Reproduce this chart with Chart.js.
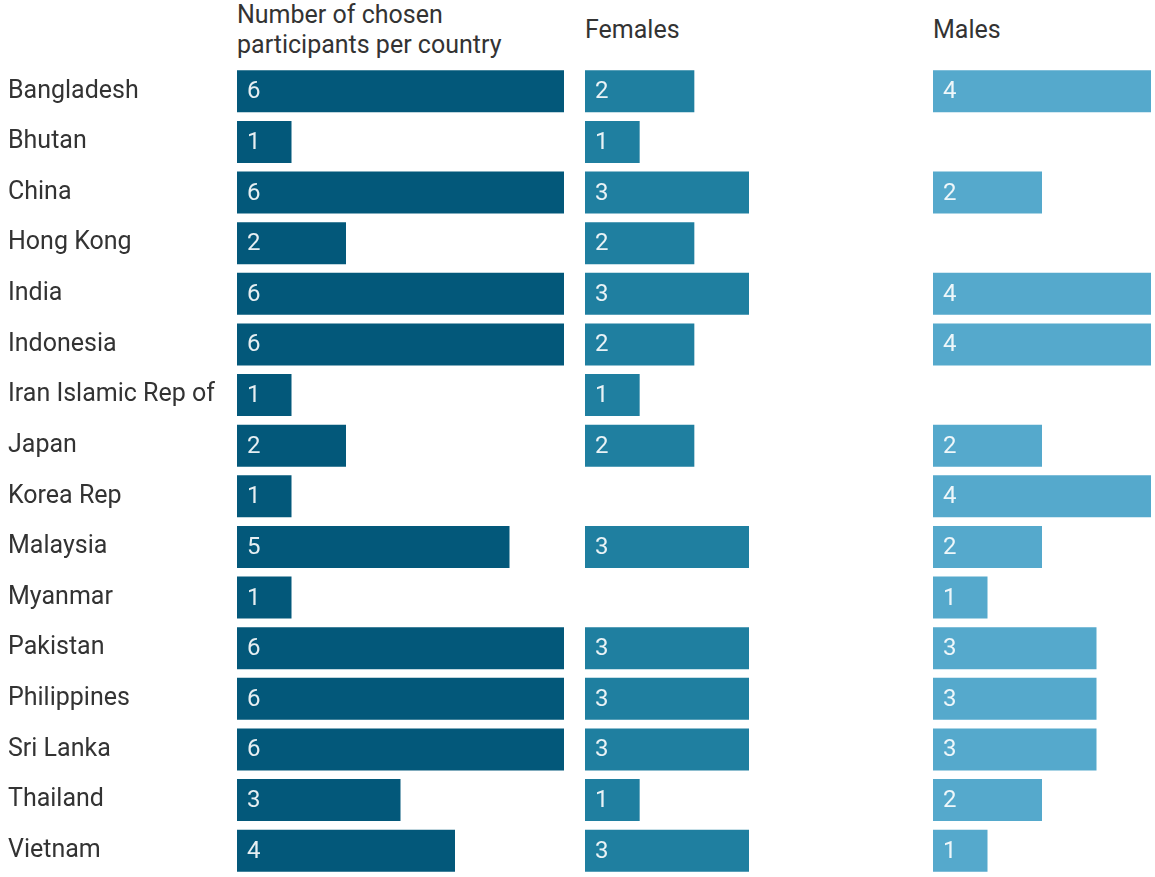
<!DOCTYPE html>
<html>
<head>
<meta charset="utf-8">
<script src="https://cdn.jsdelivr.net/npm/chart.js@4.4.0/dist/chart.umd.min.js"></script>
<style>
  html, body { margin: 0; padding: 0; background: #ffffff; }
  body { width: 1155px; height: 877px; position: relative; overflow: hidden; font-family: Roboto, "Open Sans", sans-serif; }
  .box { position: absolute; top: 0; }
  .hdr { position: absolute; font-family: Roboto, sans-serif; font-size: 25px; color: #333333; line-height: 30px; white-space: nowrap; }
</style>
</head>
<body>
<div class="hdr" style="left:237px; top:0px;">Number of chosen<br>participants per country</div>
<div class="hdr" style="left:585px; top:15px;">Females</div>
<div class="hdr" style="left:933px; top:15px;">Males</div>
<div class="box" style="left:0px; width:564px; height:891px;"><canvas id="c1"></canvas></div>
<div class="box" style="left:585px; width:164px; height:877px;"><canvas id="c2"></canvas></div>
<div class="box" style="left:933px; width:218px; height:877px;"><canvas id="c3"></canvas></div>
<script>
const countries = ["Bangladesh","Bhutan","China","Hong Kong","India","Indonesia","Iran Islamic Rep of","Japan","Korea Rep","Malaysia","Myanmar","Pakistan","Philippines","Sri Lanka","Thailand","Vietnam"];
const totals  = [6,1,6,2,6,6,1,2,1,5,1,6,6,6,3,4];
const females = [2,1,3,2,3,2,1,2,null,3,null,3,3,3,1,3];
const males   = [4,null,2,null,4,4,null,2,4,2,1,3,3,3,2,1];
const totalsMax = 6, femalesMax = 3, malesMax = 4;
const colors = { totals: "#03587a", females: "#1f7fa0", males: "#55a9cc" };

const valueLabels = {
  id: "valueLabels",
  afterDatasetsDraw(chart) {
    const ctx = chart.ctx;
    const meta = chart.getDatasetMeta(0);
    const data = chart.data.datasets[0].data;
    ctx.save();
    ctx.font = "24px Roboto, sans-serif";
    ctx.fillStyle = "rgba(255,255,255,0.9)";
    ctx.textAlign = "left";
    ctx.textBaseline = "middle";
    meta.data.forEach((bar, i) => {
      if (data[i] === null || data[i] === undefined) return;
      ctx.fillText(String(data[i]), bar.base + 10, bar.y + 1);
    });
    ctx.restore();
  }
};

function makeChart(id, values, color, max, showLabels) {
  return new Chart(document.getElementById(id), {
    type: "bar",
    data: {
      labels: countries,
      datasets: [{ data: values, backgroundColor: color, borderWidth: 0, barPercentage: 0.83, categoryPercentage: 1.0 }]
    },
    options: {
      indexAxis: "y",
      responsive: true,
      maintainAspectRatio: false,
      animation: false,
      layout: { padding: { top: 66, bottom: showLabels ? 0 : 1, left: showLabels ? 8 : 0, right: 0 } },
      plugins: { legend: { display: false }, tooltip: { enabled: false }, title: { display: false } },
      scales: {
        x: { display: false, min: 0, max: max },
        y: showLabels ? {
          display: true,
          grid: { display: false, drawTicks: false },
          border: { display: false },
          ticks: { crossAlign: "far", padding: 0, color: "#333333", font: { family: "Roboto", size: 25 } },
          afterFit(scale) { scale.width = 229; }
        } : { display: false }
      }
    },
    plugins: [valueLabels]
  });
}

makeChart("c1", totals, colors.totals, totalsMax, true);
makeChart("c2", females, colors.females, femalesMax, false);
makeChart("c3", males, colors.males, malesMax, false);
</script>
</body>
</html>
